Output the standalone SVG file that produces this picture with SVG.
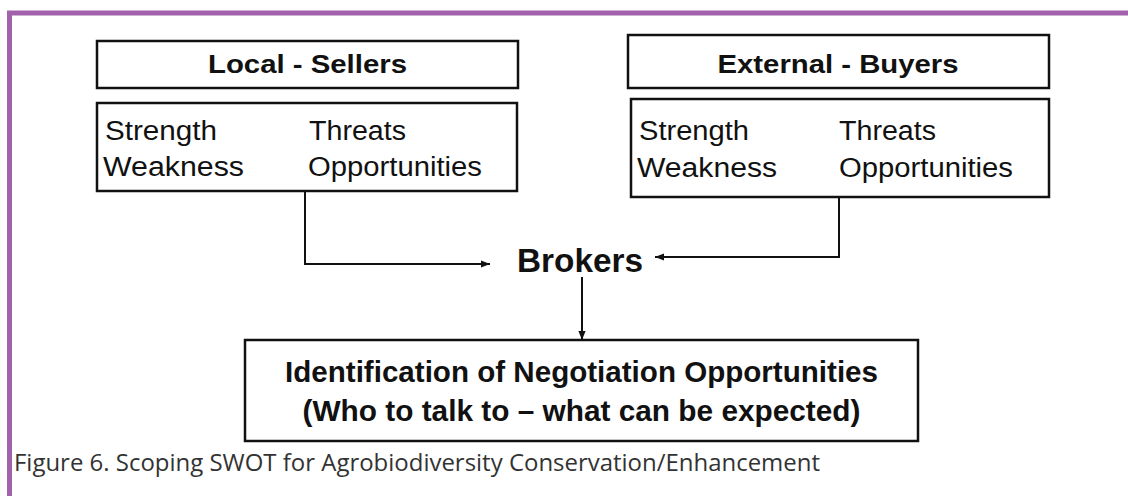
<svg xmlns="http://www.w3.org/2000/svg" width="1128" height="496" viewBox="0 0 1128 496">
  <defs>
    <style>
      .box { fill: #ffffff; stroke: #111111; stroke-width: 2.5; }
      .title { font-family: "Liberation Sans", Arial, sans-serif; font-weight: bold; font-size: 26px; fill: #111111; text-anchor: middle; }
      .swot { font-family: "Liberation Sans", Arial, sans-serif; font-size: 27px; fill: #111111; }
      .big { font-family: "Liberation Sans", Arial, sans-serif; font-weight: bold; fill: #111111; text-anchor: middle; }
      .conn { fill: none; stroke: #111111; stroke-width: 2; }
      .caption { font-family: "Open Sans", "Noto Sans", sans-serif; font-size: 23px; fill: #333333; }
    </style>
    <marker id="arrow" viewBox="0 0 10 10" refX="10" refY="5" markerWidth="4.5" markerHeight="4.5" orient="auto" markerUnits="strokeWidth">
      <path d="M0,1 L10,5 L0,9 z" fill="#111111"/>
    </marker>
  </defs>
  <rect x="0" y="0" width="1128" height="496" fill="#ffffff"/>
  <g id="frame">
    <line x1="7" y1="13" x2="1128" y2="13" stroke="#a262ab" stroke-width="5"/>
    <line x1="9.5" y1="11" x2="9.5" y2="496" stroke="#a262ab" stroke-width="5"/>
  </g>

  <g id="local-sellers">
    <rect class="box" x="97" y="41" width="421" height="47"/>
    <text class="title" x="307.5" y="73" textLength="199" lengthAdjust="spacingAndGlyphs">Local - Sellers</text>
  </g>
  <g id="local-swot">
    <rect class="box" x="97" y="103" width="420" height="88"/>
    <text class="swot" x="105" y="140" textLength="112" lengthAdjust="spacingAndGlyphs">Strength</text>
    <text class="swot" x="103" y="176" textLength="141" lengthAdjust="spacingAndGlyphs">Weakness</text>
    <text class="swot" x="309" y="140" textLength="97" lengthAdjust="spacingAndGlyphs">Threats</text>
    <text class="swot" x="308" y="176" textLength="174" lengthAdjust="spacingAndGlyphs">Opportunities</text>
  </g>

  <g id="external-buyers">
    <rect class="box" x="628" y="35" width="421" height="53"/>
    <text class="title" x="838" y="73" textLength="241" lengthAdjust="spacingAndGlyphs">External - Buyers</text>
  </g>
  <g id="external-swot">
    <rect class="box" x="631" y="99" width="418" height="98"/>
    <text class="swot" x="639" y="140" textLength="110" lengthAdjust="spacingAndGlyphs">Strength</text>
    <text class="swot" x="637" y="177" textLength="140" lengthAdjust="spacingAndGlyphs">Weakness</text>
    <text class="swot" x="839" y="140" textLength="97" lengthAdjust="spacingAndGlyphs">Threats</text>
    <text class="swot" x="839" y="177" textLength="174" lengthAdjust="spacingAndGlyphs">Opportunities</text>
  </g>

  <g id="brokers">
    <text class="big" x="580" y="272" font-size="34" textLength="126" lengthAdjust="spacingAndGlyphs">Brokers</text>
  </g>

  <g id="negotiation">
    <rect class="box" x="245" y="340" width="673" height="101"/>
    <text class="big" x="581.5" y="382" font-size="29" textLength="593" lengthAdjust="spacingAndGlyphs">Identification of Negotiation Opportunities</text>
    <text class="big" x="581.5" y="421" font-size="29" textLength="558" lengthAdjust="spacingAndGlyphs">(Who to talk to – what can be expected)</text>
  </g>

  <g id="connectors">
    <polyline class="conn" points="305,191 305,264 490,264" marker-end="url(#arrow)"/>
    <polyline class="conn" points="839,197 839,257 655,257" marker-end="url(#arrow)"/>
    <line class="conn" x1="582" y1="277" x2="582" y2="340" marker-end="url(#arrow)"/>
  </g>

  <g id="caption">
    <text class="caption" x="14" y="471" textLength="806" lengthAdjust="spacingAndGlyphs">Figure 6. Scoping SWOT for Agrobiodiversity Conservation/Enhancement</text>
  </g>
</svg>
